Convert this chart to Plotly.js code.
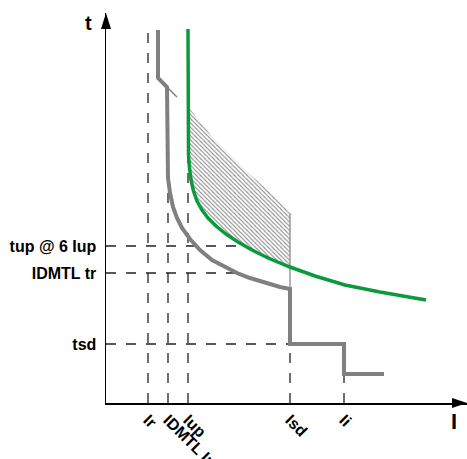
<!DOCTYPE html>
<html><head><meta charset="utf-8">
<script src="https://cdn.plot.ly/plotly-3.0.1.min.js"></script>
<style>html,body{margin:0;padding:0;background:#fff}</style>
</head><body><div id="chart" style="width:467px;height:459px"></div>
<script>
// Current axis (I) ticks
const xTickVals = [42, 62, 82, 184, 238];
const xTickText = ['Ir', 'IDMTL Ir', 'Iup', 'Isd', 'Ii'];
// Time axis (t) ticks
const yTickVals = [157, 130, 59];
const yTickText = ['tup @ 6 Iup', 'IDMTL tr', 'tsd'];

// Grey trip curve (long time, IDMTL, short time, instantaneous)
const grayX = [52, 52, 61, 61, 62, 64, 67, 71, 76, 84, 94, 106, 119, 131, 144, 159, 174, 184, 184, 238, 238, 278];
const grayY = [373, 325, 316, 243, 225, 210, 196, 185, 175, 164, 153, 143, 136, 130, 125, 120, 116, 114, 59, 59, 29, 29];
// thin continuation of the slope
const tailX = [61, 71];
const tailY = [316, 306];

// Green curve
const greenX = [82, 82, 82.5, 83.5, 85, 87.5, 91, 96, 102, 110, 120, 132, 146, 162, 184, 209, 239, 274, 320];
const greenY = [374, 263, 248, 235, 223, 212, 202, 193, 185, 177, 169, 161, 153, 145, 136, 127, 118, 111, 103];

// Hatched zone
const hatchX = [81, 107, 141, 164, 184, 184, 162, 146, 132, 120, 110, 102, 96, 91, 87.5, 85, 83.5, 82.5, 82, 82];
const hatchY = [298, 265, 231, 211, 190, 136, 145, 153, 161, 169, 177, 185, 193, 202, 212, 223, 235, 248, 263, 298];
const edgeX = [184, 184];
const edgeY = [190, 114];

// Dashed guides: top of each vertical guide, right end of each horizontal guide
const vGuideTop = [378, 243, 263, 114, 59];
const hGuideEnd = [138, 131, 184];

const gx = [], gy = [];
xTickVals.forEach((v, i) => { gx.push(v, v, null); gy.push(0, vGuideTop[i], null); });
yTickVals.forEach((v, i) => { gx.push(0, hGuideEnd[i], null); gy.push(v, v, null); });

const W = 361, H = 390;
const traces = [
  {x: gx, y: gy, mode: 'lines', line: {color: '#222', width: 1.3, dash: '10px,10px'}, hoverinfo: 'skip'},
  {x: hatchX, y: hatchY, mode: 'lines', fill: 'toself', line: {width: 0, color: 'rgba(0,0,0,0)'},
   fillcolor: 'rgba(0,0,0,0)',
   fillpattern: {shape: '\\', size: 3, solidity: 0.35, fgcolor: '#888', bgcolor: 'rgba(0,0,0,0)'}, hoverinfo: 'skip'},
  {x: edgeX, y: edgeY, mode: 'lines', line: {color: '#999', width: 1.5}, hoverinfo: 'skip'},
  {x: tailX, y: tailY, mode: 'lines', line: {color: '#808080', width: 1.5}, hoverinfo: 'skip'},
  {x: grayX, y: grayY, mode: 'lines', line: {color: '#808080', width: 4}, hoverinfo: 'skip'},
  {x: greenX, y: greenY, mode: 'lines', line: {color: '#0a9a3c', width: 3.5}, hoverinfo: 'skip'}
];

const tickFont = {family: 'Liberation Sans, Arial, sans-serif', size: 16, color: '#000', weight: 'bold'};
const layout = {
  width: 467, height: 459,
  margin: {l: 106, r: 0, t: 13, b: 56},
  paper_bgcolor: '#fff', plot_bgcolor: '#fff',
  showlegend: false,
  xaxis: {range: [0, W], showgrid: false, zeroline: false, showline: true, linecolor: '#000', linewidth: 1.5,
    tickmode: 'array', tickvals: xTickVals, ticktext: xTickText, tickangle: 45, ticks: '',
    tickfont: tickFont, fixedrange: true},
  yaxis: {range: [0, H], showgrid: false, zeroline: false, showline: true, linecolor: '#000', linewidth: 1.5,
    tickmode: 'array', tickvals: yTickVals, ticktext: yTickText, ticks: '', ticklabelstandoff: 5,
    tickfont: {family: 'Liberation Sans, Arial, sans-serif', size: 16, color: '#000', weight: 'bold'}, fixedrange: true},
  shapes: [
    {type: 'path', xref: 'paper', yref: 'paper', fillcolor: '#000', line: {width: 0},
     path: `M 0,1 L ${5/W},${1-16/H} L ${-5/W},${1-16/H} Z`},
    {type: 'path', xref: 'paper', yref: 'paper', fillcolor: '#000', line: {width: 0},
     path: `M 1,0 L ${1-15/W},${5/H} L ${1-15/W},${-5/H} Z`}
  ],
  annotations: [
    {xref: 'paper', yref: 'paper', x: -23/W, y: (403-10)/H, text: 't', showarrow: false,
     font: {family: 'Liberation Sans, Arial, sans-serif', size: 20, color: '#000', weight: 'bold'}},
    {xref: 'paper', yref: 'paper', x: 353/W, y: -33/H, text: 'I', showarrow: false,
     font: {family: 'Liberation Sans, Arial, sans-serif', size: 22, color: '#000', weight: 'bold'}}
  ]
};
Plotly.newPlot('chart', traces, layout, {staticPlot: true, displayModeBar: false});
</script></body></html>
